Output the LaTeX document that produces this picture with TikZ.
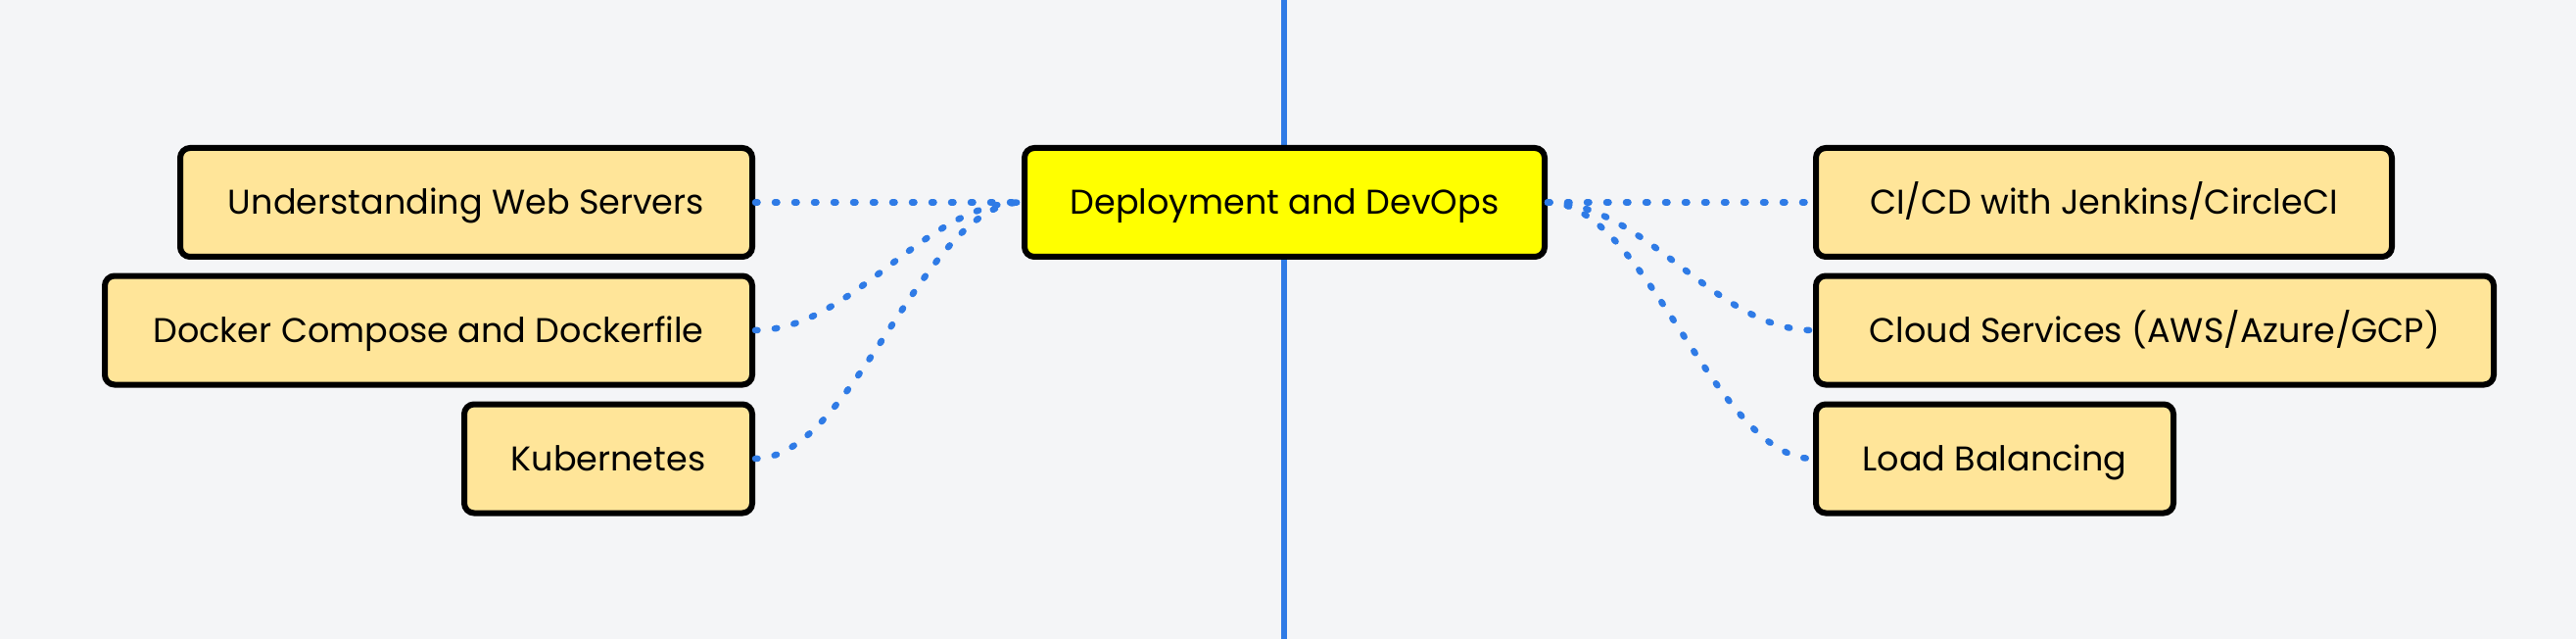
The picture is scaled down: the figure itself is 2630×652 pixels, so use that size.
\documentclass[tikz,border=0pt]{standalone}
\usepackage{fontspec}
\setmainfont{Poppins}
\definecolor{bgcol}{HTML}{F4F5F7}
\definecolor{leafcol}{HTML}{FFE599}
\definecolor{rootcol}{HTML}{FFFF00}
\definecolor{linkcol}{HTML}{2F7BE6}
\tikzset{
  topicbox/.style={draw=black, line width=6pt, rounded corners=10pt, fill=leafcol,
    minimum height=111pt, inner sep=0pt, text height=25pt, text depth=0pt,
    font=\fontsize{35}{40}\selectfont},
  rootbox/.style={topicbox, fill=rootcol},
  link/.style={draw=linkcol, line width=6.5pt, line cap=round, dash pattern=on 2.5pt off 17.5pt}
}
\begin{document}
\begin{tikzpicture}[x=1pt,y=-1pt]
		% Background and page size
		\fill[bgcol] (0,0) rectangle (2630,652);
		\useasboundingbox (0,0) rectangle (2630,652);
		
		% Vertical axis behind the main topic
		\draw[linkcol, line width=6pt] (1311,0) -- (1311,652);
		
		% Main topic
		\node[rootbox, minimum width=531pt] (deploy) at (1311.5,206.5) {Deployment and DevOps};
		
		% Topics on the left
		\node[topicbox, minimum width=584pt] (webservers) at (476,206.5) {Understanding Web Servers};
		\node[topicbox, minimum width=661pt] (compose) at (437.5,337) {Docker Compose and Dockerfile};
		\node[topicbox, minimum width=294pt] (kube) at (621,468) {Kubernetes};
		
		% Topics on the right
		\node[topicbox, minimum width=588pt] (cicd) at (2148,206.5) {CI/CD with Jenkins/CircleCI};
		\node[topicbox, minimum width=692pt] (cloud) at (2200,337) {Cloud Services (AWS/Azure/GCP)};
		\node[topicbox, minimum width=365pt] (balance) at (2036.5,468) {Load Balancing};
		
		% Dotted links
		\draw[link] (webservers.east) -- (deploy.west);
		\draw[link] (compose.east) .. controls +(100,0) and +(-100,0) .. (deploy.west);
		\draw[link] (kube.east) .. controls +(100,0) and +(-100,0) .. (deploy.west);
		\draw[link] (deploy.east) -- (cicd.west);
		\draw[link] (deploy.east) .. controls +(100,0) and +(-100,0) .. (cloud.west);
		\draw[link] (deploy.east) .. controls +(100,0) and +(-100,0) .. (balance.west);
		
\end{tikzpicture}
\end{document}
